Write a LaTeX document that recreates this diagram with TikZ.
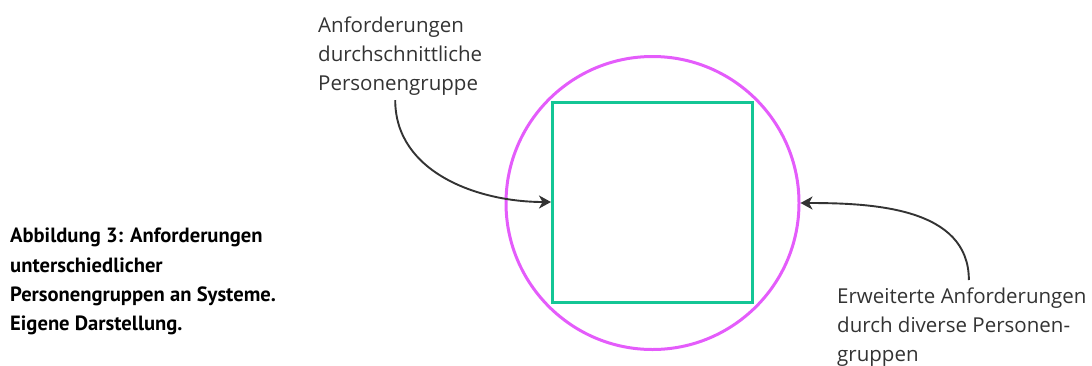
\documentclass[tikz,border=0pt]{standalone}
\usepackage{fontspec}
\setmainfont{Open Sans}
\newfontfamily\captfont{PT Sans}
\usepackage{tikz}
\usetikzlibrary{arrows.meta,positioning}
\definecolor{ringpink}{HTML}{E45CFB}
\definecolor{coregreen}{HTML}{14C695}
\definecolor{notegray}{HTML}{333333}

\begin{document}
\begin{tikzpicture}[
  x=1pt, y=-1pt,
  ring/.style={draw=ringpink, circle, line width=3pt, minimum size=293pt, inner sep=0pt},
  corebox/.style={draw=coregreen, rectangle, line width=3pt, minimum size=200pt, inner sep=0pt},
  note/.style={align=left, inner sep=0pt, text=notegray, font=\fontsize{20.5}{29}\selectfont},
  capt/.style={align=left, inner sep=0pt, font=\captfont\bfseries\fontsize{20.6}{29.3}\selectfont},
  arr/.style={-{Stealth[length=12pt, width=13pt, inset=3.5pt]}, line width=1.9pt, notegray}
]
  \useasboundingbox (0,0) rectangle (1092,365);
  \node[ring] (outer) at (652.5,203) {};
  \node[corebox] (core) at (652.5,202) {};
  \node[note, anchor=north west] (reqA) at (318,17) {Anforderungen\\durchschnittliche\\Personengruppe};
  \node[note, anchor=north west] (reqB) at (837,288) {Erweiterte Anforderungen\\durch diverse Personen-\\gruppen};
  \node[capt, anchor=north west] (caption) at (10,228) {Abbildung 3: Anforderungen\\unterschiedlicher\\Personengruppen an Systeme.\\Eigene Darstellung.};
  \draw[arr] ([xshift=-5pt, yshift=-4pt]reqA.south) to[out=-90, in=180] (core.west);
  \draw[arr] ([xshift=7pt, yshift=8pt]reqB.north) to[out=90, in=0] (outer.east);
\end{tikzpicture}
\end{document}
